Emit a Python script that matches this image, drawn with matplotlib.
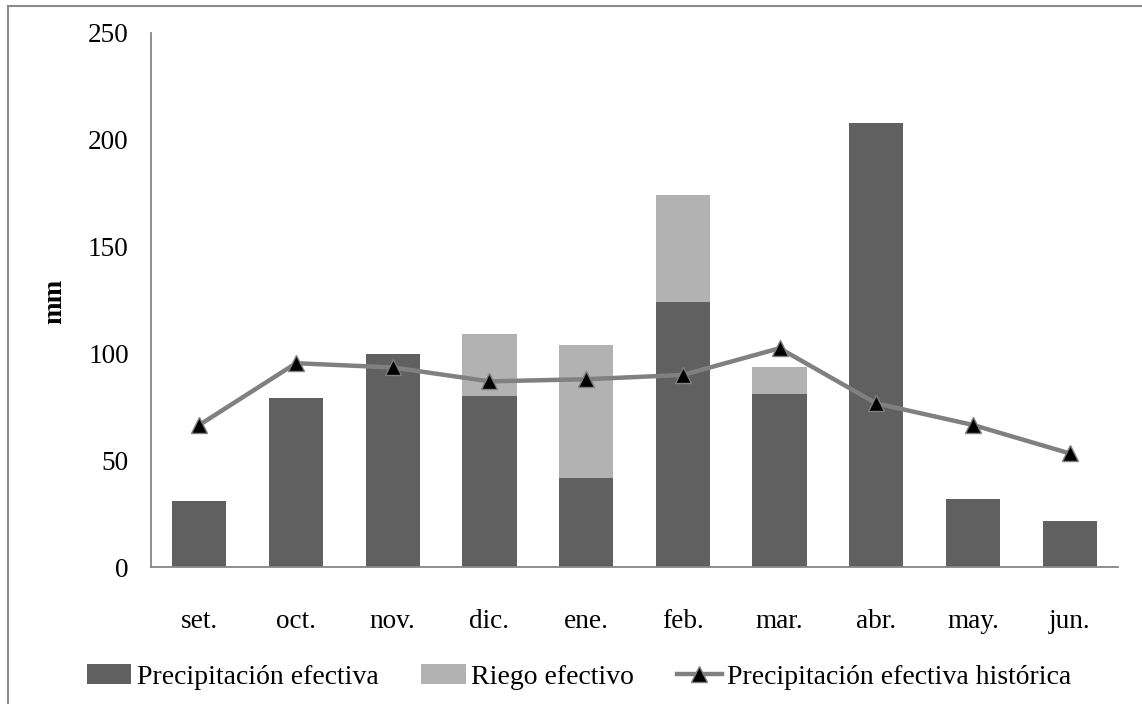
import matplotlib
matplotlib.use("Agg")
import matplotlib.pyplot as plt
from matplotlib.lines import Line2D
import numpy as np

months = ["set.", "oct.", "nov.", "dic.", "ene.", "feb.", "mar.", "abr.", "may.", "jun."]
precip_efectiva = [31, 79, 100, 80, 42, 124, 81, 208, 32, 21.5]
riego_efectivo = [0, 0, 0, 29, 62, 50, 12.5, 0, 0, 0]
precip_historica = [66.6, 95.5, 93.5, 87, 88, 90, 102.5, 76.7, 66.6, 53.3]
yticks = [0, 50, 100, 150, 200, 250]

plt.rcParams['font.family'] = ['Liberation Serif', 'DejaVu Serif']

fig = plt.figure(figsize=(11.42, 7.04), dpi=100)
ax = fig.add_axes([151/1142, 1 - 567.3/704, (1118 - 151)/1142, (567.3 - 33)/704])

x = np.arange(len(months))
dark = '#606060'
light = '#b2b2b2'
linec = '#808080'

b1 = ax.bar(x, precip_efectiva, width=0.56, color=dark, label='Precipitación efectiva', zorder=2)
b2 = ax.bar(x, riego_efectivo, width=0.56, bottom=precip_efectiva, color=light,
            label='Riego efectivo', zorder=2)
ln, = ax.plot(x, precip_historica, color=linec, lw=3.2, marker='^', markersize=11.5,
              markerfacecolor='black', markeredgecolor=linec, markeredgewidth=1,
              label='Precipitación efectiva histórica', zorder=3)

ax.set_xlim(-0.5, len(months) - 0.5)
ax.set_ylim(0, 250)
ax.set_yticks(yticks)
ax.set_xticks(x)
ax.set_xticklabels(months)
ax.tick_params(axis='both', length=0, labelsize=19.6, colors='black')
ax.tick_params(axis='x', pad=30)
ax.tick_params(axis='y', pad=16)
for s in ['top', 'right']:
    ax.spines[s].set_visible(False)
for s in ['left', 'bottom']:
    ax.spines[s].set_color('#868686')
    ax.spines[s].set_linewidth(1.3)

fig.text(55/1142, 1 - 301/704, 'mm', rotation=90, fontsize=19.6, fontweight='bold',
         ha='center', va='center')

leg = fig.legend(handles=[b1, b2, ln], loc='center', bbox_to_anchor=(0.507, 1 - 677/704),
                 ncol=3, frameon=False, fontsize=20, handlelength=1.6, handletextpad=0.2,
                 columnspacing=1.55)

# outer border (top and left visible)
fig.add_artist(Line2D([8/1142, 8/1142], [0, 1 - 6/704], color='#8c8c8c', lw=1.5,
                      transform=fig.transFigure))
fig.add_artist(Line2D([8/1142, 1], [1 - 6/704, 1 - 6/704], color='#8c8c8c', lw=1.5,
                      transform=fig.transFigure))

fig.savefig('out.png', dpi=100)
